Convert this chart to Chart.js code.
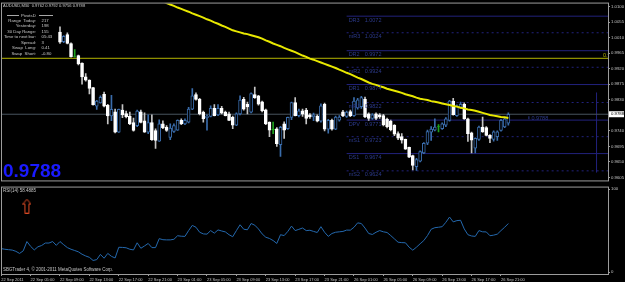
<!DOCTYPE html>
<html>
<head>
<meta charset="utf-8">
<title>AUDUSD,M30</title>
<script src="https://cdn.jsdelivr.net/npm/chart.js@4.4.1/dist/chart.umd.min.js"></script>
<style>
  html, body { margin: 0; padding: 0; background: #000; }
  body { position: relative; width: 625px; height: 282px; overflow: hidden; font-family: "Liberation Sans", Arial, sans-serif; }
  canvas { position: absolute; left: 0; }
  #priceChart { top: 0; }
  #rsiChart { top: 184px; }
  .lbl { position: absolute; white-space: pre; font-size: 4.3px; line-height: 5px; color: #c8c8c8; z-index: 2; }
  .rule { position: absolute; height: 0; border-top: 1px solid #a8a8a8; z-index: 2; }
  #bigPrice { position: absolute; left: 3px; top: 161px; font: bold 19px/19px "Liberation Sans", Arial, sans-serif; color: #1a1aff; z-index: 2; }
</style>
</head>
<body>
<canvas id="priceChart" width="625" height="184"></canvas>
<canvas id="rsiChart" width="625" height="98"></canvas>
<div id="texts"></div>
<script>
var symbol = 'AUDUSD,M30';
var timeLabels = ['22 Sep 2011', '22 Sep 05:00', '22 Sep 09:00', '22 Sep 13:00', '22 Sep 17:00', '22 Sep 21:00',
    '23 Sep 01:00', '23 Sep 05:00', '23 Sep 09:00', '23 Sep 13:00', '23 Sep 17:00', '23 Sep 21:00',
    '26 Sep 01:00', '26 Sep 05:00', '26 Sep 09:00', '26 Sep 13:00', '26 Sep 17:00', '26 Sep 21:00'];
var barsPerLabel = 8;
var priceTicks = [1.0100, 1.0055, 1.0010, 0.9965, 0.9920, 0.9875, 0.9830, 0.9740, 0.9695, 0.9650, 0.9605];
var rsiTicks = [0, 100];

// candles: bars before this one are above the visible price range
var candleStart = 16;
var openP = [1.0026, 0.9998, 1.0019, 0.9993, 0.9956, 0.9958, 0.9936, 0.9896, 0.9887, 0.9865,
    0.9811, 0.9821, 0.9846, 0.9814, 0.9783, 0.9795, 0.9736, 0.9800, 0.9790, 0.9783,
    0.9764, 0.9755, 0.9795, 0.9769, 0.9736, 0.9764, 0.9741, 0.9710, 0.9760, 0.9750,
    0.9721, 0.9738, 0.9742, 0.9770, 0.9760, 0.9765, 0.9803, 0.9845, 0.9831, 0.9794,
    0.9778, 0.9782, 0.9805, 0.9786, 0.9805, 0.9794, 0.9789, 0.9779, 0.9756, 0.9789,
    0.9831, 0.9817, 0.9794, 0.9845, 0.9841, 0.9824, 0.9801, 0.9765, 0.9744, 0.9746,
    0.9700, 0.9760, 0.9746, 0.9779, 0.9822, 0.9784, 0.9798, 0.9800, 0.9786, 0.9780,
    0.9783, 0.9768, 0.9817, 0.9745, 0.9770, 0.9745, 0.9771, 0.9795, 0.9782, 0.9796,
    0.9784, 0.9806, 0.9810, 0.9832, 0.9789, 0.9776, 0.9789, 0.9786, 0.9784, 0.9774,
    0.9768, 0.9756, 0.9732, 0.9723, 0.9715, 0.9692, 0.9668, 0.9636, 0.9652, 0.9676,
    0.9704, 0.9736, 0.9742, 0.9752, 0.9746, 0.9756, 0.9770, 0.9826, 0.9784, 0.9808,
    0.9817, 0.9775, 0.9734, 0.9690, 0.9715, 0.9751, 0.9749, 0.9727, 0.9715, 0.9723,
    0.9741, 0.9751, 0.9762];
var highP = [1.0041, 1.0016, 1.0024, 0.9995, 0.9975, 0.9959, 0.9937, 0.9906, 0.9888, 0.9866,
    0.9828, 0.9841, 0.9852, 0.9817, 0.9843, 0.9803, 0.9803, 0.9816, 0.9797, 0.9794,
    0.9777, 0.9800, 0.9800, 0.9792, 0.9786, 0.9786, 0.9746, 0.9772, 0.9769, 0.9755,
    0.9760, 0.9760, 0.9772, 0.9775, 0.9775, 0.9808, 0.9862, 0.9850, 0.9834, 0.9797,
    0.9786, 0.9812, 0.9816, 0.9816, 0.9811, 0.9797, 0.9794, 0.9783, 0.9792, 0.9841,
    0.9837, 0.9823, 0.9850, 0.9867, 0.9843, 0.9826, 0.9803, 0.9766, 0.9765, 0.9749,
    0.9753, 0.9766, 0.9780, 0.9823, 0.9836, 0.9803, 0.9803, 0.9805, 0.9790, 0.9791,
    0.9786, 0.9818, 0.9820, 0.9773, 0.9774, 0.9783, 0.9784, 0.9799, 0.9797, 0.9800,
    0.9836, 0.9834, 0.9840, 0.9838, 0.9792, 0.9790, 0.9792, 0.9790, 0.9788, 0.9777,
    0.9771, 0.9758, 0.9737, 0.9732, 0.9716, 0.9693, 0.9670, 0.9660, 0.9682, 0.9706,
    0.9742, 0.9752, 0.9775, 0.9758, 0.9763, 0.9778, 0.9828, 0.9834, 0.9815, 0.9823,
    0.9821, 0.9777, 0.9736, 0.9720, 0.9754, 0.9780, 0.9752, 0.9729, 0.9740, 0.9740,
    0.9773, 0.9778, 0.9792];
var lowP = [0.9993, 0.9995, 0.9992, 0.9953, 0.9953, 0.9931, 0.9875, 0.9884, 0.9847, 0.9814,
    0.9802, 0.9820, 0.9809, 0.9760, 0.9769, 0.9734, 0.9735, 0.9778, 0.9777, 0.9758,
    0.9739, 0.9752, 0.9763, 0.9735, 0.9732, 0.9712, 0.9689, 0.9709, 0.9746, 0.9738,
    0.9714, 0.9735, 0.9741, 0.9758, 0.9758, 0.9763, 0.9801, 0.9829, 0.9786, 0.9765,
    0.9742, 0.9780, 0.9783, 0.9784, 0.9789, 0.9783, 0.9769, 0.9746, 0.9755, 0.9786,
    0.9800, 0.9789, 0.9792, 0.9834, 0.9814, 0.9795, 0.9758, 0.9723, 0.9732, 0.9695,
    0.9666, 0.9718, 0.9744, 0.9772, 0.9783, 0.9780, 0.9782, 0.9760, 0.9776, 0.9769,
    0.9766, 0.9765, 0.9740, 0.9733, 0.9742, 0.9743, 0.9768, 0.9781, 0.9779, 0.9781,
    0.9782, 0.9803, 0.9805, 0.9778, 0.9770, 0.9773, 0.9772, 0.9776, 0.9754, 0.9748,
    0.9740, 0.9726, 0.9714, 0.9704, 0.9686, 0.9662, 0.9627, 0.9625, 0.9650, 0.9674,
    0.9700, 0.9712, 0.9740, 0.9737, 0.9744, 0.9752, 0.9768, 0.9785, 0.9782, 0.9806,
    0.9773, 0.9709, 0.9676, 0.9676, 0.9712, 0.9735, 0.9725, 0.9706, 0.9710, 0.9712,
    0.9739, 0.9749, 0.9756];
var closeP = [0.9997, 1.0014, 0.9993, 0.9955, 0.9956, 0.9934, 0.9896, 0.9887, 0.9863, 0.9816,
    0.9826, 0.9837, 0.9811, 0.9783, 0.9802, 0.9736, 0.9802, 0.9786, 0.9781, 0.9760,
    0.9741, 0.9797, 0.9764, 0.9736, 0.9764, 0.9714, 0.9712, 0.9760, 0.9748, 0.9741,
    0.9748, 0.9755, 0.9770, 0.9760, 0.9770, 0.9803, 0.9841, 0.9831, 0.9789, 0.9775,
    0.9783, 0.9805, 0.9784, 0.9805, 0.9791, 0.9784, 0.9770, 0.9756, 0.9789, 0.9829,
    0.9803, 0.9809, 0.9848, 0.9836, 0.9817, 0.9798, 0.9760, 0.9742, 0.9744, 0.9703,
    0.9750, 0.9742, 0.9779, 0.9822, 0.9784, 0.9798, 0.9788, 0.9776, 0.9780, 0.9786,
    0.9768, 0.9812, 0.9745, 0.9770, 0.9745, 0.9780, 0.9780, 0.9783, 0.9794, 0.9784,
    0.9826, 0.9830, 0.9836, 0.9780, 0.9776, 0.9786, 0.9776, 0.9780, 0.9757, 0.9752,
    0.9743, 0.9730, 0.9719, 0.9713, 0.9687, 0.9664, 0.9640, 0.9657, 0.9680, 0.9704,
    0.9738, 0.9745, 0.9751, 0.9752, 0.9760, 0.9775, 0.9826, 0.9787, 0.9812, 0.9817,
    0.9775, 0.9732, 0.9713, 0.9718, 0.9751, 0.9737, 0.9727, 0.9718, 0.9737, 0.9737,
    0.9770, 0.9775, 0.9788];

// yellow moving average, enters the window from the top
var maStart = 43;
var maLine = [1.0119, 1.0115, 1.0110, 1.0106, 1.0102, 1.0097, 1.0093, 1.0089, 1.0085, 1.0080,
    1.0076, 1.0072, 1.0068, 1.0063, 1.0059, 1.0054, 1.0050, 1.0045, 1.0041, 1.0036,
    1.0031, 1.0028, 1.0025, 1.0022, 1.0020, 1.0017, 1.0014, 1.0011, 1.0007, 1.0002,
    0.9998, 0.9993, 0.9989, 0.9985, 0.9980, 0.9976, 0.9972, 0.9968, 0.9963, 0.9958,
    0.9954, 0.9949, 0.9946, 0.9942, 0.9938, 0.9934, 0.9930, 0.9926, 0.9922, 0.9917,
    0.9913, 0.9908, 0.9904, 0.9899, 0.9894, 0.9890, 0.9885, 0.9880, 0.9876, 0.9873,
    0.9869, 0.9866, 0.9862, 0.9859, 0.9856, 0.9853, 0.9850, 0.9846, 0.9843, 0.9840,
    0.9836, 0.9833, 0.9831, 0.9829, 0.9826, 0.9824, 0.9822, 0.9819, 0.9817, 0.9815,
    0.9812, 0.9810, 0.9807, 0.9805, 0.9802, 0.9800, 0.9798, 0.9795, 0.9792, 0.9789,
    0.9786, 0.9784, 0.9782, 0.9780, 0.9779, 0.9777];

var rsiValues = [28.3, 27.5, 27, 26.5, 25, 22.5, 25.6, 36.8, 31, 26.7,
    30.5, 32, 35, 35, 36.8, 32.2, 36.8, 33, 29.5, 27.5,
    26, 24.4, 21.5, 19.4, 17.8, 14, 15, 21.3, 16.7, 22.5,
    19, 17, 29.9, 29.7, 29.3, 27.5, 26.7, 35.3, 28.7, 31.5,
    34.5, 29.5, 29.5, 40.3, 39, 38.8, 38.8, 39.5, 43.8, 43.2,
    43, 50, 56.2, 54, 48, 46, 45.7, 50, 46.9, 50.8,
    49.5, 48.4, 45, 42.6, 50, 57, 51.6, 51, 58.5, 56.5,
    52, 46, 42, 40.5, 38, 34.5, 45, 44, 49, 55.4,
    50, 51.5, 53.1, 50, 50.4, 49, 47.7, 54.7, 48, 43,
    46.5, 48, 48.5, 49, 50.6, 50.5, 54, 59.3, 58.5, 53,
    46.5, 45.3, 48, 50, 48.5, 47.7, 44, 40, 36, 35.5,
    35.3, 30, 26.4, 30, 34.1, 38, 44, 51.6, 53.5, 54,
    54.7, 60, 66.3, 60.5, 62, 62.4, 52, 45, 43.5, 43,
    50, 48.5, 48.4, 43.8, 44.5, 45.7, 50, 54, 58.4885];

var pivotNames = ['DR3', 'mR3', 'DR2', 'mR2', 'DR1', 'mR1', 'DPV', 'mS1', 'DS1', 'mS2'];
var pivotLevels = [1.0072, 1.0024, 0.9972, 0.9924, 0.9874, 0.9822, 0.9771, 0.9723, 0.9674, 0.9624];
var dayStartBar = 94;
var markLevel = 0.9950;
var vLineBar = 162;
var vLineRange = [0.9619, 0.9851];
var arrowBars = [7];
var arrowValues = [79.5];

var infoLabels = ['Range  Today:', 'Yesterday:', '30 Day Range:', 'Time to next bar:', 'Spread:', 'Swap  Long:', 'Swap  Short:'];
var infoValues = ['217', '198', '155', '05:43', '3', '0.41', '-0.80'];

// bar 0 sits at x=1.2px, one bar every 3.675px
var X_MIN = 0.218, X_MAX = 165.12;
var SANS = '"Liberation Sans", Arial, sans-serif';
var BULL = '#3a6cab', BEAR = '#c4c4c4', DOJI = '#1da31d', NAVY = '#22227c';

var lastIdx = closeP.length - 1;
var lastBar = candleStart + lastIdx;
var lastPrice = closeP[lastIdx];

var wicks = [], bodies = [], wickCol = [], bodyFill = [], bodyEdge = [];
for (var k = 0; k < openP.length; k++) {
    var o = openP[k], c = closeP[k], i = candleStart + k;
    wicks.push({x: i, y: [lowP[k], highP[k]]});
    bodies.push({x: i, y: c === o ? [o - 0.00005, o + 0.00005] : [o, c]});
    if (c > o) { wickCol.push(BULL); bodyFill.push('#000'); bodyEdge.push(BULL); }
    else if (c < o) { wickCol.push(BEAR); bodyFill.push('#fff'); bodyEdge.push('#fff'); }
    else { wickCol.push(DOJI); bodyFill.push(DOJI); bodyEdge.push(DOJI); }
}

function hLine(v, from, color, dash) {
    return {
        type: 'line', data: [{x: from, y: v}, {x: X_MAX + 2, y: v}],
        borderColor: color, borderWidth: 1, borderDash: dash || [], pointRadius: 0, order: 4
    };
}

var priceSets = [
    {
        type: 'line', order: 0, borderColor: '#e8e800', borderWidth: 2, pointRadius: 0,
        data: maLine.map(function (v, k) { return {x: maStart + k, y: v}; })
    },
    {
        type: 'bar', order: 1, data: bodies, backgroundColor: bodyFill, borderColor: bodyEdge,
        borderWidth: 1, borderSkipped: false, barThickness: 3, grouped: false
    },
    {
        type: 'bar', order: 2, data: wicks, backgroundColor: wickCol,
        borderWidth: 0, barThickness: 1, grouped: false
    },
    hLine(lastPrice, X_MIN - 1, '#48545e'),
    hLine(markLevel, X_MIN - 1, '#b4b400'),
    {
        type: 'line', order: 4, borderColor: NAVY, borderWidth: 1, pointRadius: 0,
        data: [{x: vLineBar, y: vLineRange[0]}, {x: vLineBar, y: vLineRange[1]}]
    }
];
pivotNames.forEach(function (name, k) {
    priceSets.push(hLine(pivotLevels[k], dayStartBar, NAVY, name.charAt(0) === 'm' ? [2, 3] : []));
});

var mainDecor = {
    id: 'mainDecor',
    afterDraw: function (chart) {
        var ctx = chart.ctx, a = chart.chartArea, xs = chart.scales.x, ys = chart.scales.y;
        ctx.save();
        ctx.textBaseline = 'middle';
        ctx.font = '5.5px ' + SANS;
        ctx.fillStyle = '#2c3a8a';
        var px = xs.getPixelForValue(dayStartBar) + 2;
        pivotNames.forEach(function (name, k) {
            var py = ys.getPixelForValue(pivotLevels[k]) + 4;
            ctx.fillText(name, px, py);
            ctx.fillText(pivotLevels[k].toFixed(4), px + 16, py);
        });
        // price tag right of the last bar
        var ly = ys.getPixelForValue(lastPrice);
        var lx = xs.getPixelForValue(lastBar + 6);
        ctx.fillRect(lx - 2, ly + 2, 1, 3);
        ctx.fillText(lastPrice.toFixed(4), lx + 1, ly + 4);
        // label of the yellow level, cut by the window edge
        ctx.save();
        ctx.beginPath();
        ctx.rect(a.left, a.top, a.right - a.left, a.bottom - a.top);
        ctx.clip();
        ctx.fillStyle = '#b4b400';
        ctx.fillText(markLevel.toFixed(4), a.right - 5, ys.getPixelForValue(markLevel) - 3);
        ctx.restore();
        // frame
        ctx.strokeStyle = '#9c9c9c';
        ctx.lineWidth = 1;
        ctx.strokeRect(a.left - 0.5, a.top - 0.5, a.right - a.left + 1, a.bottom - a.top + 1);
        // current price box on the axis
        ctx.fillStyle = '#ffffff';
        ctx.fillRect(a.right + 1, ly - 3, 15, 6);
        ctx.fillStyle = '#000000';
        ctx.font = '4.3px ' + SANS;
        ctx.fillText(lastPrice.toFixed(4), a.right + 3, ly);
        ctx.restore();
    }
};

var frameOnly = {
    id: 'frameOnly',
    afterDraw: function (chart) {
        var ctx = chart.ctx, a = chart.chartArea;
        ctx.save();
        ctx.strokeStyle = '#9c9c9c';
        ctx.lineWidth = 1;
        ctx.strokeRect(a.left - 0.5, a.top - 0.5, a.right - a.left + 1, a.bottom - a.top + 1);
        ctx.restore();
    }
};

new Chart(document.getElementById('priceChart'), {
    type: 'bar',
    data: {datasets: priceSets},
    options: {
        responsive: false, animation: false, devicePixelRatio: 1,
        layout: {autoPadding: false, padding: {left: 2, top: 2, right: 0, bottom: 1}},
        plugins: {legend: {display: false}, tooltip: {enabled: false}},
        scales: {
            x: {type: 'linear', display: false, min: X_MIN, max: X_MAX, offset: false},
            y: {
                type: 'linear', position: 'right', min: 0.95963, max: 1.01085, bounds: 'data',
                afterFit: function (s) { s.width = 17; },
                afterBuildTicks: function (s) { s.ticks = priceTicks.map(function (v) { return {value: v}; }); },
                ticks: {color: '#c4c4c4', font: {family: SANS, size: 4.3}, padding: 1, autoSkip: false,
                    callback: function (v) { return Number(v).toFixed(4); }},
                grid: {drawOnChartArea: false, color: '#9c9c9c', tickLength: 2},
                border: {display: false}
            }
        }
    },
    plugins: [mainDecor]
});

// outlined up arrow used as the point style of the signal
var arrowImg = document.createElement('canvas');
arrowImg.width = 9; arrowImg.height = 15;
(function () {
    var c = arrowImg.getContext('2d');
    c.strokeStyle = '#dc4a24';
    c.lineWidth = 1;
    c.beginPath();
    c.moveTo(4.5, 0.5); c.lineTo(8.5, 5.5); c.lineTo(6.5, 5.5); c.lineTo(6.5, 14.5);
    c.lineTo(2.5, 14.5); c.lineTo(2.5, 5.5); c.lineTo(0.5, 5.5); c.closePath();
    c.stroke();
})();

new Chart(document.getElementById('rsiChart'), {
    type: 'line',
    data: {
        datasets: [
            {
                borderColor: '#2468ad', borderWidth: 1, pointRadius: 0, tension: 0,
                data: rsiValues.map(function (v, i) { return {x: i, y: v}; })
            },
            {
                showLine: false, pointStyle: arrowImg, pointRadius: 7,
                data: arrowBars.map(function (b, k) { return {x: b, y: arrowValues[k]}; })
            }
        ]
    },
    options: {
        responsive: false, animation: false, devicePixelRatio: 1,
        layout: {autoPadding: false, padding: {left: 2, top: 1, right: 0, bottom: 0}},
        plugins: {legend: {display: false}, tooltip: {enabled: false}},
        scales: {
            x: {
                type: 'linear', min: X_MIN, max: X_MAX, offset: false, position: 'bottom',
                afterFit: function (s) { s.height = 8; },
                afterBuildTicks: function (s) {
                    s.ticks = timeLabels.map(function (t, k) { return {value: k * barsPerLabel}; });
                },
                ticks: {color: '#c4c4c4', font: {family: SANS, size: 4}, padding: 1, autoSkip: false, maxRotation: 0,
                    minRotation: 0, align: 'start', callback: function (v, k) { return timeLabels[k]; }},
                grid: {drawOnChartArea: false, color: '#9c9c9c', tickLength: 2},
                border: {display: false}
            },
            y: {
                type: 'linear', position: 'right', min: -2.3, max: 101.8, bounds: 'data',
                afterFit: function (s) { s.width = 17; },
                afterBuildTicks: function (s) { s.ticks = rsiTicks.map(function (v) { return {value: v}; }); },
                ticks: {color: '#c4c4c4', font: {family: SANS, size: 4.3}, padding: 1, autoSkip: false},
                grid: {drawOnChartArea: false, color: '#9c9c9c', tickLength: 2},
                border: {display: false}
            }
        }
    },
    plugins: [frameOnly]
});

// texts printed by the terminal and the indicators
var box = document.getElementById('texts');
function addText(str, left, top, css) {
    var d = document.createElement('div');
    d.className = 'lbl';
    d.textContent = str;
    d.style.left = left + 'px';
    d.style.top = top + 'px';
    if (css) { for (var p in css) { d.style[p] = css[p]; } }
    box.appendChild(d);
    return d;
}
addText(symbol + '  ' + [openP[lastIdx], highP[lastIdx], lowP[lastIdx], closeP[lastIdx]].map(function (v) {
    return v.toFixed(4);
}).join(' '), 3, 2.5, {fontSize: '4.1px'});
addText('PivotsD', 21, 12.5);
var r1 = document.createElement('div'); r1.className = 'rule';
r1.style.left = '7px'; r1.style.top = '15px'; r1.style.width = '12px'; box.appendChild(r1);
var r2 = document.createElement('div'); r2.className = 'rule';
r2.style.left = '39px'; r2.style.top = '15px'; r2.style.width = '14px'; box.appendChild(r2);
infoLabels.forEach(function (t, k) {
    var top = 17.8 + k * 5.5;
    addText(t, 0, top, {width: '36px', textAlign: 'right'});
    addText(infoValues[k], 41.5, top);
});
var big = document.createElement('div');
big.id = 'bigPrice';
big.textContent = lastPrice.toFixed(4);
box.appendChild(big);
addText('RSI(14) ' + rsiValues[rsiValues.length - 1].toFixed(4), 3, 187.5, {fontSize: '4.5px'});
addText('SBGTrader 4, \u00a9 2001-2011 MetaQuotes Software Corp.', 3, 267, {fontSize: '4.45px'});
</script>
</body>
</html>
